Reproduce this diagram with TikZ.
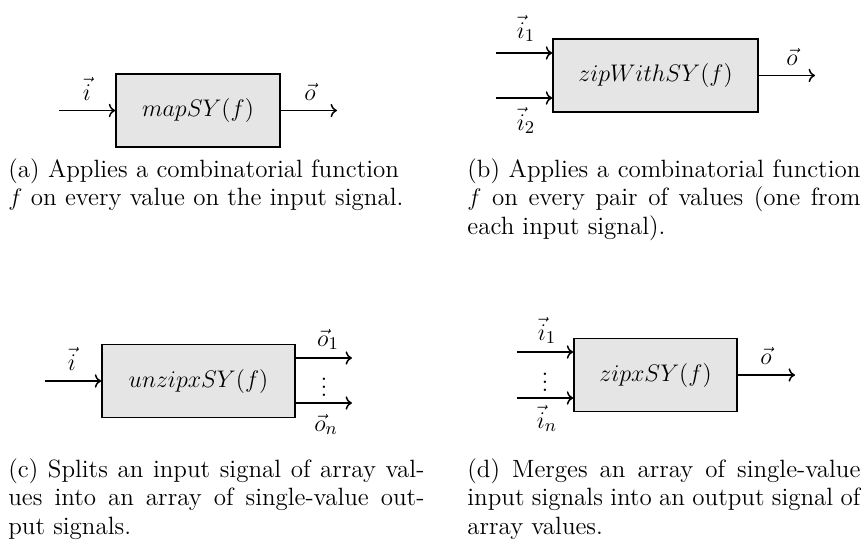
\documentclass[tikz,border=0pt]{standalone}
\usetikzlibrary{arrows.meta}
\begin{document}
\begin{tikzpicture}[x=0.5pt,y=-0.5pt,
  font=\fontsize{12.5}{14.25}\selectfont,
  blk/.style={draw=black, fill=black!10, line width=0.8pt, minimum width=#1, minimum height=36.5pt, inner sep=0pt},
  sig/.style={-{To[length=3.2pt]}, line width=0.75pt},
  lbl/.style={inner sep=0pt, anchor=base},
  cap/.style={anchor=base west, inner sep=0pt, text width=#1, align=justify}]
\useasboundingbox (0,0) rectangle (861,547);
% (a)
\node[blk=82pt] (ma) at (198,110.5) {$mapSY(f)$};
\coordinate (ai) at (59,110.5);
\coordinate (ao) at (337,110.5);
\draw[sig] (ai) -- (ma.west);
\draw[sig] (ma.east) -- (ao);
\node[lbl] (ail) at (87,100) {$\vec{i}$};
\node[lbl] (aol) at (310,100) {$\vec{o}$};
\node[cap=210pt, align=left] (ca) at (8,177) {(a) Applies a combinatorial function\\ $f$ on every value on the input signal.};
% (b)
\node[blk=102.5pt] (zw) at (655.5,75.5) {$zipWithSY(f)$};
\coordinate (bi1) at (496,53);
\coordinate (bi2) at (496,98);
\coordinate (bo) at (815,75.5);
\draw[sig] (bi1) -- (bi1 -| zw.west);
\draw[sig] (bi2) -- (bi2 -| zw.west);
\draw[sig] (zw.east) -- (bo);
\node[lbl] (bi1l) at (526,38) {$\vec{i}_1$};
\node[lbl] (bi2l) at (526,130) {$\vec{i}_2$};
\node[lbl] (bol) at (792,65) {$\vec{o}$};
\node[cap=196.5pt] (cb) at (467,177) {(b) Applies a combinatorial function\linebreak $f$ on every pair of values (one from\linebreak each input signal).};
% (c)
\node[blk=96.5pt] (uz) at (198.5,381) {$unzipxSY(f)$};
\coordinate (ci) at (45,381);
\coordinate (co1) at (352,358);
\coordinate (co2) at (352,403);
\draw[sig] (ci) -- (uz.west);
\draw[sig] (co1 -| uz.east) -- (co1);
\draw[sig] (co2 -| uz.east) -- (co2);
\node[lbl] (cil) at (72,370) {$\vec{i}$};
\node[lbl] (co1l) at (328,346) {$\vec{o}_1$};
\node[lbl] (co2l) at (326,431) {$\vec{o}_n$};
\node[inner sep=0pt] (cdots) at (324,381) {$\vdots$};
\node[cap=208pt] (cc) at (8,477) {(c) Splits an input signal of array val-\linebreak ues into an array of single-value out-\linebreak put signals.};
% (d)
\node[blk=81.5pt] (zx) at (655.5,375) {$zipxSY(f)$};
\coordinate (di1) at (517,352);
\coordinate (di2) at (517,398);
\coordinate (do) at (795,375);
\draw[sig] (di1) -- (di1 -| zx.west);
\draw[sig] (di2) -- (di2 -| zx.west);
\draw[sig] (zx.east) -- (do);
\node[lbl] (di1l) at (547,340) {$\vec{i}_1$};
\node[lbl] (di2l) at (547,428) {$\vec{i}_n$};
\node[inner sep=0pt] (ddots) at (545,376) {$\vdots$};
\node[lbl] (dol) at (766,364) {$\vec{o}$};
\node[cap=196.5pt] (cd) at (467,477) {(d) Merges an array of single-value\linebreak input signals into an output signal of\linebreak array values.};
\end{tikzpicture}
\end{document}
